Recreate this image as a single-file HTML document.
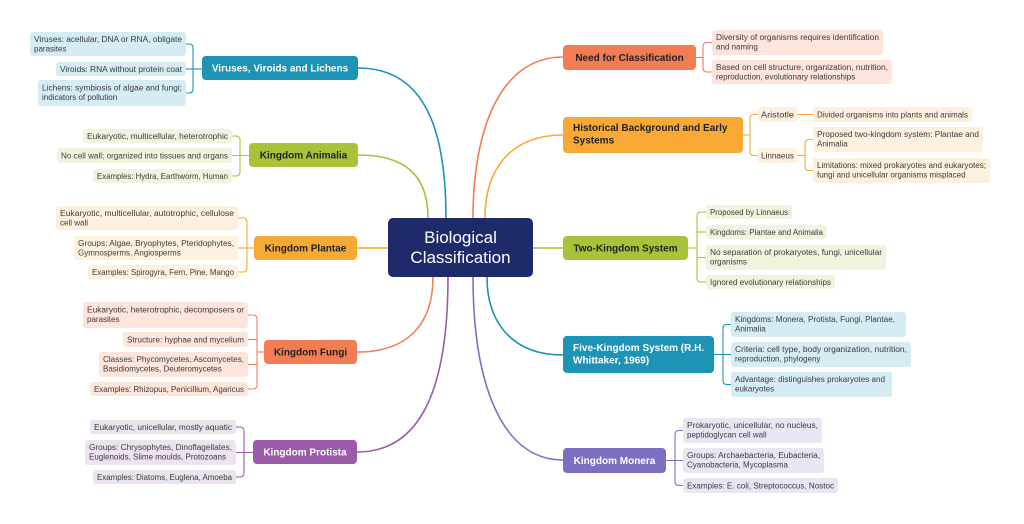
<!DOCTYPE html>
<html><head><meta charset="utf-8"><style>
html,body{margin:0;padding:0;background:#fff;}
svg{display:block;}
text{font-family:"Liberation Sans",sans-serif;}
.l{font-size:8px;fill:#3b3b3b;}
.m{font-size:10px;font-weight:bold;}
.w{fill:#ffffff;}
.d{fill:#222222;}
</style></head><body>
<svg width="1024" height="524" viewBox="0 0 1024 524" xmlns="http://www.w3.org/2000/svg">
<rect width="1024" height="524" fill="#fff"/>
<!-- main connectors -->
<g fill="none" stroke-width="1.6">
<path d="M358,68 C425,68 446,130 446,218" stroke="#1d93b5"/>
<path d="M358,155 C410,155 428,180 428,218" stroke="#a8c23a"/>
<path d="M357,248 L388,248" stroke="#f7a935"/>
<path d="M357,352 C412,352 433,320 433,277" stroke="#ef8259"/>
<path d="M357,452 C425,452 448,380 448,277" stroke="#9a5ba8"/>
<path d="M563,57 C500,57 473,130 473,218" stroke="#f07b55"/>
<path d="M563,135 C510,135 485,170 485,218" stroke="#f8a935"/>
<path d="M533,248 L563,248" stroke="#a8c23a"/>
<path d="M563,355 C510,355 487,320 487,277" stroke="#1d93b5"/>
<path d="M563,460 C500,460 473,380 473,277" stroke="#7b70bf"/>
</g>
<!-- brackets -->
<g fill="none" stroke-width="1.1">
<g stroke="#1d93b5">
<path d="M186,44 H189 Q193,44 193,48 V89 Q193,93 189,93 H186"/><path d="M186,69 H202"/>
</g>
<g stroke="#a8c23a">
<path d="M232,136 H236 Q240,136 240,140 V172 Q240,176 236,176 H232"/><path d="M232,155.5 H249"/>
</g>
<g stroke="#f7a935">
<path d="M238,218 H243 Q247,218 247,222 V268 Q247,272 243,272 H238"/><path d="M238,248 H254"/>
</g>
<g stroke="#ef8259">
<path d="M248,315 H253 Q257,315 257,319 V385 Q257,389 253,389 H248"/><path d="M248,339.5 H257"/><path d="M248,364.5 H257"/><path d="M257,352 H264"/>
</g>
<g stroke="#9a5ba8">
<path d="M236,427 H240 Q244,427 244,431 V473 Q244,477 240,477 H236"/><path d="M236,452.5 H253"/>
</g>
<g stroke="#f07b55">
<path d="M712,42.5 H707 Q703,42.5 703,46.5 V68 Q703,72 707,72 H712"/><path d="M696,57.5 H703"/>
</g>
<g stroke="#f8a935">
<path d="M758,114.5 H754 Q750,114.5 750,118.5 V151.5 Q750,155.5 754,155.5 H758"/><path d="M743,135 H750"/>
<path d="M797,114.5 H813"/>
<path d="M813,139.5 H809 Q805,139.5 805,143.5 V166.5 Q805,170.5 809,170.5 H813"/><path d="M797,155.5 H805"/>
</g>
<g stroke="#a8c23a">
<path d="M706,212 H701 Q697,212 697,216 V278 Q697,282 701,282 H706"/><path d="M697,232 H706"/><path d="M697,257.5 H706"/><path d="M688,248 H697"/>
</g>
<g stroke="#1d93b5">
<path d="M731,324.5 H727 Q723,324.5 723,328.5 V380.5 Q723,384.5 727,384.5 H731"/><path d="M714,354.5 H731"/>
</g>
<g stroke="#7b70bf">
<path d="M683,430.5 H679 Q675,430.5 675,434.5 V481.5 Q675,485.5 679,485.5 H683"/><path d="M666,460.5 H683"/>
</g>
</g>

<!-- center -->
<rect x="388" y="218" width="145" height="59" rx="5" fill="#1f2a6b"/>
<text x="460.5" y="243" font-size="17" fill="#fff" text-anchor="middle">Biological</text>
<text x="460.5" y="263" font-size="17" fill="#fff" text-anchor="middle">Classification</text>

<!-- main nodes -->
<rect x="202" y="56" width="156" height="24" rx="4" fill="#1d93b5"/>
<text class="m w" x="280" y="71.5" text-anchor="middle">Viruses, Viroids and Lichens</text>
<rect x="249" y="143" width="109" height="24" rx="4" fill="#a8c23a"/>
<text class="m d" x="303.5" y="158.5" text-anchor="middle">Kingdom Animalia</text>
<rect x="254" y="236" width="103" height="24" rx="4" fill="#f7a935"/>
<text class="m d" x="305.5" y="251.5" text-anchor="middle">Kingdom Plantae</text>
<rect x="264" y="340" width="93" height="24" rx="4" fill="#f27d55"/>
<text class="m d" x="310.5" y="355.5" text-anchor="middle">Kingdom Fungi</text>
<rect x="253" y="440" width="104" height="24" rx="4" fill="#9a5ba8"/>
<text class="m w" x="305" y="455.5" text-anchor="middle">Kingdom Protista</text>

<rect x="563" y="45" width="133" height="25" rx="4" fill="#f27d55"/>
<text class="m d" x="629.5" y="61" text-anchor="middle">Need for Classification</text>
<rect x="563" y="117" width="180" height="36" rx="4" fill="#f8a935"/>
<text class="m d" x="573" y="131">Historical Background and Early</text>
<text class="m d" x="573" y="143.5">Systems</text>
<rect x="563" y="236" width="125" height="24" rx="4" fill="#a8c23a"/>
<text class="m d" x="625.5" y="251.5" text-anchor="middle">Two-Kingdom System</text>
<rect x="563" y="336" width="151" height="37" rx="4" fill="#1d93b5"/>
<text class="m w" x="573" y="351">Five-Kingdom System (R.H.</text>
<text class="m w" x="573" y="363.5">Whittaker, 1969)</text>
<rect x="563" y="448" width="103" height="25" rx="4" fill="#7b70bf"/>
<text class="m w" x="614.5" y="464" text-anchor="middle">Kingdom Monera</text>

<!-- leaves: viruses -->
<g>
<rect x="30" y="32" width="156" height="24" rx="3" fill="#d5ecf5"/>
<text class="l" x="34" y="42" textLength="148" lengthAdjust="spacingAndGlyphs">Viruses: acellular, DNA or RNA, obligate</text>
<text class="l" x="34" y="51.5">parasites</text>
<rect x="56" y="62" width="130" height="14" rx="3" fill="#d5ecf5"/>
<text class="l" x="60" y="72" textLength="122" lengthAdjust="spacingAndGlyphs">Viroids: RNA without protein coat</text>
<rect x="38" y="80" width="148" height="26" rx="3" fill="#d5ecf5"/>
<text class="l" x="42" y="90.5" textLength="140" lengthAdjust="spacingAndGlyphs">Lichens: symbiosis of algae and fungi;</text>
<text class="l" x="42" y="100">indicators of pollution</text>
</g>
<!-- animalia -->
<g>
<rect x="83" y="129" width="149" height="14" rx="3" fill="#f0f4de"/>
<text class="l" x="87" y="139" textLength="141" lengthAdjust="spacingAndGlyphs">Eukaryotic, multicellular, heterotrophic</text>
<rect x="57" y="148" width="175" height="15" rx="3" fill="#f0f4de"/>
<text class="l" x="61" y="158.5" textLength="167" lengthAdjust="spacingAndGlyphs">No cell wall; organized into tissues and organs</text>
<rect x="93" y="169" width="139" height="14" rx="3" fill="#f0f4de"/>
<text class="l" x="97" y="179" textLength="131" lengthAdjust="spacingAndGlyphs">Examples: Hydra, Earthworm, Human</text>
</g>
<!-- plantae -->
<g>
<rect x="56" y="206" width="182" height="24" rx="3" fill="#fdf0df"/>
<text class="l" x="60" y="216" textLength="174" lengthAdjust="spacingAndGlyphs">Eukaryotic, multicellular, autotrophic, cellulose</text>
<text class="l" x="60" y="225.5">cell wall</text>
<rect x="74" y="236" width="164" height="24" rx="3" fill="#fdf0df"/>
<text class="l" x="78" y="246" textLength="156" lengthAdjust="spacingAndGlyphs">Groups: Algae, Bryophytes, Pteridophytes,</text>
<text class="l" x="78" y="255.5">Gymnosperms, Angiosperms</text>
<rect x="88" y="265" width="150" height="14" rx="3" fill="#fdf0df"/>
<text class="l" x="92" y="275" textLength="142" lengthAdjust="spacingAndGlyphs">Examples: Spirogyra, Fern, Pine, Mango</text>
</g>
<!-- fungi -->
<g>
<rect x="83" y="302" width="165" height="26" rx="3" fill="#fde5dc"/>
<text class="l" x="87" y="312.5" textLength="157" lengthAdjust="spacingAndGlyphs">Eukaryotic, heterotrophic, decomposers or</text>
<text class="l" x="87" y="322">parasites</text>
<rect x="123" y="332" width="125" height="15" rx="3" fill="#fde5dc"/>
<text class="l" x="127" y="342.5" textLength="117" lengthAdjust="spacingAndGlyphs">Structure: hyphae and mycelium</text>
<rect x="99" y="352" width="149" height="25" rx="3" fill="#fde5dc"/>
<text class="l" x="103" y="362" textLength="141" lengthAdjust="spacingAndGlyphs">Classes: Phycomycetes, Ascomycetes,</text>
<text class="l" x="103" y="371.5">Basidiomycetes, Deuteromycetes</text>
<rect x="90" y="382" width="158" height="14" rx="3" fill="#fde5dc"/>
<text class="l" x="94" y="392" textLength="150" lengthAdjust="spacingAndGlyphs">Examples: Rhizopus, Penicillium, Agaricus</text>
</g>
<!-- protista -->
<g>
<rect x="90" y="420" width="146" height="14" rx="3" fill="#ece2f0"/>
<text class="l" x="94" y="430" textLength="138" lengthAdjust="spacingAndGlyphs">Eukaryotic, unicellular, mostly aquatic</text>
<rect x="85" y="440" width="151" height="25" rx="3" fill="#ece2f0"/>
<text class="l" x="89" y="450" textLength="143" lengthAdjust="spacingAndGlyphs">Groups: Chrysophytes, Dinoflagellates,</text>
<text class="l" x="89" y="459.5">Euglenoids, Slime moulds, Protozoans</text>
<rect x="93" y="470" width="143" height="14" rx="3" fill="#ece2f0"/>
<text class="l" x="97" y="480" textLength="135" lengthAdjust="spacingAndGlyphs">Examples: Diatoms, Euglena, Amoeba</text>
</g>
<!-- need -->
<g>
<rect x="712" y="30" width="171" height="25" rx="3" fill="#fde4dc"/>
<text class="l" x="716" y="40" textLength="163" lengthAdjust="spacingAndGlyphs">Diversity of organisms requires identification</text>
<text class="l" x="716" y="49.5">and naming</text>
<rect x="712" y="60" width="180" height="24" rx="3" fill="#fde4dc"/>
<text class="l" x="716" y="70" textLength="172" lengthAdjust="spacingAndGlyphs">Based on cell structure, organization, nutrition,</text>
<text class="l" x="716" y="79.5">reproduction, evolutionary relationships</text>
</g>
<!-- historical -->
<g>
<rect x="758" y="107" width="39" height="15" rx="3" fill="#fdf0df"/>
<text class="l" x="761" y="117.5" textLength="33" lengthAdjust="spacingAndGlyphs">Aristotle</text>
<rect x="813" y="107" width="159" height="15" rx="3" fill="#fdf0df"/>
<text class="l" x="817" y="117.5" textLength="151" lengthAdjust="spacingAndGlyphs">Divided organisms into plants and animals</text>
<rect x="758" y="148" width="39" height="15" rx="3" fill="#fdf0df"/>
<text class="l" x="761" y="158.5" textLength="33" lengthAdjust="spacingAndGlyphs">Linnaeus</text>
<rect x="813" y="127" width="170" height="25" rx="3" fill="#fdf0df"/>
<text class="l" x="817" y="137" textLength="162" lengthAdjust="spacingAndGlyphs">Proposed two-kingdom system: Plantae and</text>
<text class="l" x="817" y="146.5">Animalia</text>
<rect x="813" y="158" width="177" height="25" rx="3" fill="#fdf0df"/>
<text class="l" x="817" y="168" textLength="169" lengthAdjust="spacingAndGlyphs">Limitations: mixed prokaryotes and eukaryotes;</text>
<text class="l" x="817" y="177.5">fungi and unicellular organisms misplaced</text>
</g>
<!-- two kingdom -->
<g>
<rect x="706" y="205" width="86" height="14" rx="3" fill="#f0f4de"/>
<text class="l" x="710" y="215" textLength="78" lengthAdjust="spacingAndGlyphs">Proposed by Linnaeus</text>
<rect x="706" y="225" width="121" height="14" rx="3" fill="#f0f4de"/>
<text class="l" x="710" y="235" textLength="113" lengthAdjust="spacingAndGlyphs">Kingdoms: Plantae and Animalia</text>
<rect x="706" y="245" width="180" height="25" rx="3" fill="#f0f4de"/>
<text class="l" x="710" y="255" textLength="172" lengthAdjust="spacingAndGlyphs">No separation of prokaryotes, fungi, unicellular</text>
<text class="l" x="710" y="264.5">organisms</text>
<rect x="706" y="275" width="129" height="14" rx="3" fill="#f0f4de"/>
<text class="l" x="710" y="285" textLength="121" lengthAdjust="spacingAndGlyphs">Ignored evolutionary relationships</text>
</g>
<!-- five kingdom -->
<g>
<rect x="731" y="312" width="175" height="25" rx="3" fill="#d5ecf5"/>
<text class="l" x="735" y="322" textLength="160" lengthAdjust="spacingAndGlyphs">Kingdoms: Monera, Protista, Fungi, Plantae,</text>
<text class="l" x="735" y="331.5">Animalia</text>
<rect x="731" y="342" width="180" height="25" rx="3" fill="#d5ecf5"/>
<text class="l" x="735" y="352" textLength="172" lengthAdjust="spacingAndGlyphs">Criteria: cell type, body organization, nutrition,</text>
<text class="l" x="735" y="361.5">reproduction, phylogeny</text>
<rect x="731" y="372" width="161" height="25" rx="3" fill="#d5ecf5"/>
<text class="l" x="735" y="382" textLength="150" lengthAdjust="spacingAndGlyphs">Advantage: distinguishes prokaryotes and</text>
<text class="l" x="735" y="391.5">eukaryotes</text>
</g>
<!-- monera -->
<g>
<rect x="683" y="418" width="139" height="25" rx="3" fill="#e8e6f3"/>
<text class="l" x="687" y="428" textLength="131" lengthAdjust="spacingAndGlyphs">Prokaryotic, unicellular, no nucleus,</text>
<text class="l" x="687" y="437.5">peptidoglycan cell wall</text>
<rect x="683" y="448" width="141" height="25" rx="3" fill="#e8e6f3"/>
<text class="l" x="687" y="458" textLength="133" lengthAdjust="spacingAndGlyphs">Groups: Archaebacteria, Eubacteria,</text>
<text class="l" x="687" y="467.5">Cyanobacteria, Mycoplasma</text>
<rect x="683" y="478" width="155" height="15" rx="3" fill="#e8e6f3"/>
<text class="l" x="687" y="488.5" textLength="147" lengthAdjust="spacingAndGlyphs">Examples: E. coli, Streptococcus, Nostoc</text>
</g>
</svg>
</body></html>
